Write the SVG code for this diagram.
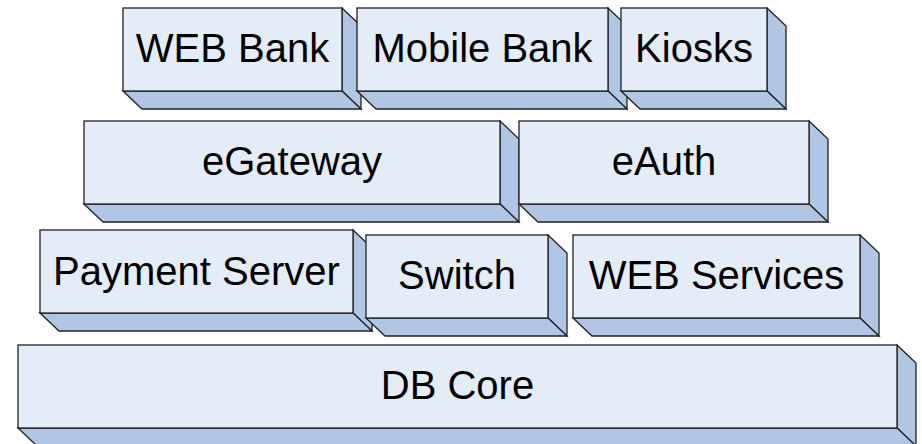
<svg xmlns="http://www.w3.org/2000/svg" width="922" height="444" viewBox="0 0 922 444">
<style>
.front{fill:#E4ECF7;stroke:#222;stroke-width:1.3}
.depth{fill:#B0C6E4;stroke:#222;stroke-width:1.3;stroke-linejoin:miter}
text{font-family:"Liberation Sans",Arial,sans-serif;font-size:40px;fill:#000;text-anchor:middle}
</style>
<rect width="922" height="444" fill="#fff"/>
<g id="db-core">
<polygon class="depth" points="897,345 916,363 916,446 897,428"/>
<polygon class="depth" points="18,428 37,446 916,446 897,428"/>
<rect class="front" x="18" y="345" width="879" height="83"/>
<text x="457.5" y="399">DB Core</text>
</g>
<g id="payment-server">
<polygon class="depth" points="353,230 372,248 372,331 353,313"/>
<polygon class="depth" points="40,313 59,331 372,331 353,313"/>
<rect class="front" x="40" y="230" width="313" height="83"/>
<text x="196.5" y="285">Payment Server</text>
</g>
<g id="switch">
<polygon class="depth" points="548,235 567,253 567,336 548,318"/>
<polygon class="depth" points="366,318 385,336 567,336 548,318"/>
<rect class="front" x="366" y="235" width="182" height="83"/>
<text x="457" y="289">Switch</text>
</g>
<g id="web-services">
<polygon class="depth" points="860,235 879,253 879,336 860,318"/>
<polygon class="depth" points="573,318 592,336 879,336 860,318"/>
<rect class="front" x="573" y="235" width="287" height="83"/>
<text x="716.5" y="289">WEB Services</text>
</g>
<g id="egateway">
<polygon class="depth" points="500,121 519,139 519,222 500,204"/>
<polygon class="depth" points="84,204 103,222 519,222 500,204"/>
<rect class="front" x="84" y="121" width="416" height="83"/>
<text x="292" y="175">eGateway</text>
</g>
<g id="eauth">
<polygon class="depth" points="809,121 828,139 828,222 809,204"/>
<polygon class="depth" points="519,204 538,222 828,222 809,204"/>
<rect class="front" x="519" y="121" width="290" height="83"/>
<text x="664" y="175">eAuth</text>
</g>
<g id="web-bank">
<polygon class="depth" points="342,8 361,26 361,109 342,91"/>
<polygon class="depth" points="123,91 142,109 361,109 342,91"/>
<rect class="front" x="123" y="8" width="219" height="83"/>
<text x="232.5" y="62">WEB Bank</text>
</g>
<g id="mobile-bank">
<polygon class="depth" points="608,8 627,26 627,109 608,91"/>
<polygon class="depth" points="357,91 376,109 627,109 608,91"/>
<rect class="front" x="357" y="8" width="251" height="83"/>
<text x="482.5" y="62">Mobile Bank</text>
</g>
<g id="kiosks">
<polygon class="depth" points="767,8 786,26 786,109 767,91"/>
<polygon class="depth" points="621,91 640,109 786,109 767,91"/>
<rect class="front" x="621" y="8" width="146" height="83"/>
<text x="694" y="62">Kiosks</text>
</g>
<g id="connectors"/>
</svg>
